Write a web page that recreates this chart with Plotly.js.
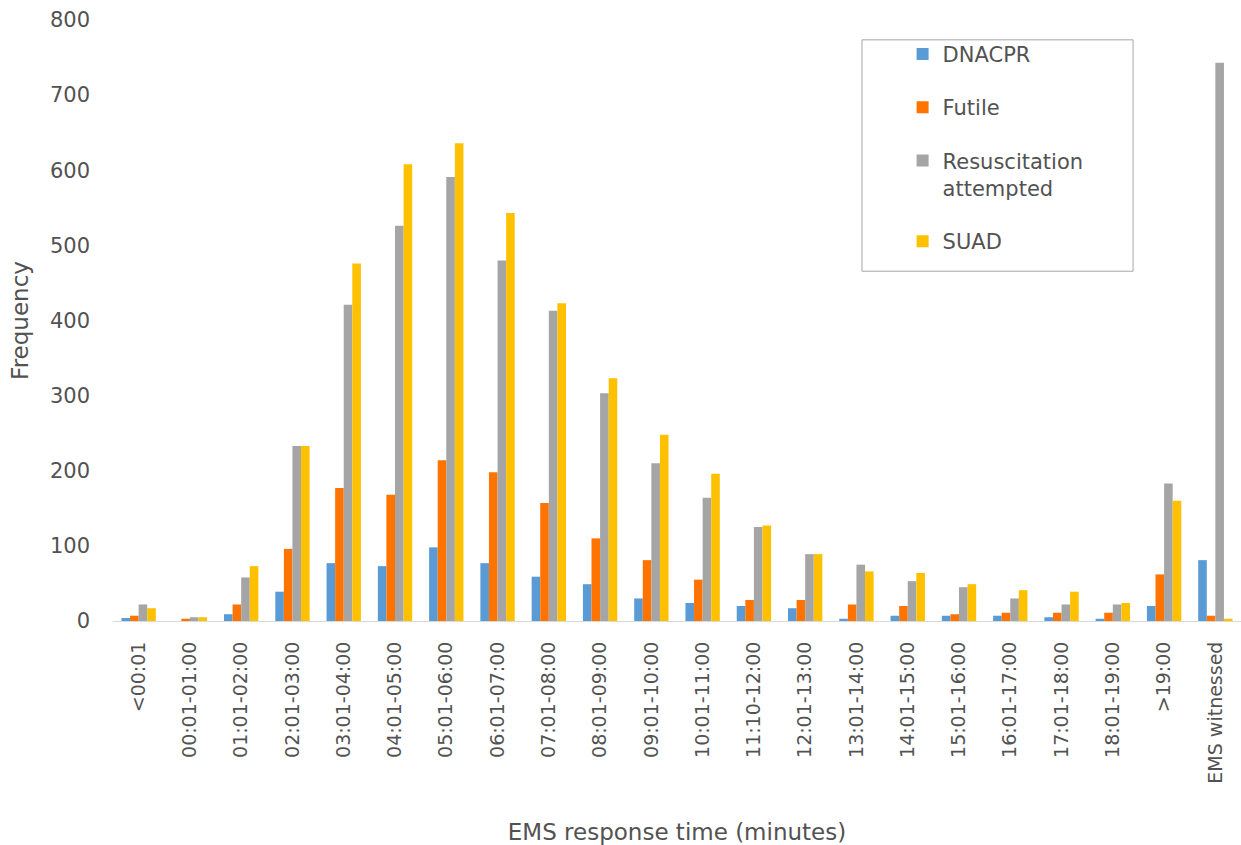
<!DOCTYPE html>
<html>
<head>
<meta charset="utf-8">
<script src="https://cdn.plot.ly/plotly-3.0.1.min.js"></script>
<style>html,body{margin:0;padding:0;background:#fff;}#chart{width:1241px;height:845px;}</style>
</head>
<body>
<div id="chart"></div>
<script>
var categories = ["<00:01","00:01-01:00","01:01-02:00","02:01-03:00","03:01-04:00","04:01-05:00","05:01-06:00","06:01-07:00","07:01-08:00","08:01-09:00","09:01-10:00","10:01-11:00","11:10-12:00","12:01-13:00","13:01-14:00","14:01-15:00","15:01-16:00","16:01-17:00","17:01-18:00","18:01-19:00",">19:00","EMS witnessed"];
var dnacpr = [4,0,9,39,77,73,98,77,59,49,30,24,20,17,3,7,7,7,5,3,20,81];
var futile = [7,3,22,96,177,168,214,198,157,110,81,55,28,28,22,20,9,11,11,11,62,7];
var resus  = [22,5,58,233,421,526,591,480,413,303,210,164,125,89,75,53,45,30,22,22,183,743];
var suad   = [17,5,73,233,476,608,636,543,423,323,248,196,127,89,66,64,49,41,39,24,160,3];
var seriesNames = ["DNACPR","Futile","Resuscitation<br>attempted","SUAD"];
var colors = ["#5B9BD5","#FF7300","#A5A5A5","#FFC000"];
var values = [dnacpr, futile, resus, suad];

var traces = values.map(function(v, i){
  return {type:"bar", x:categories, y:v, name:seriesNames[i], legendgroup:"g"+i,
          marker:{color:colors[i]}, hoverinfo:"x+y+name"};
});

var txt = "#525252";
var fam = "DejaVu Sans, sans-serif";
var layout = {
  width:1241, height:845,
  margin:{l:113, r:0, t:20, b:224},
  paper_bgcolor:"#fff", plot_bgcolor:"#fff",
  font:{family:fam, color:txt},
  barmode:"group", bargap:0.33, bargroupgap:0,
  xaxis:{type:"category", tickangle:-90, tickfont:{family:fam, size:19, color:txt},
         showline:true, linecolor:"#D9D9D9", linewidth:1, ticks:"", showgrid:false,
         ticklabelstandoff:12,
         title:{text:"EMS response time (minutes)", font:{family:fam, size:23, color:txt}, standoff:44}},
  yaxis:{range:[0,800], dtick:100, showgrid:false, zeroline:false, showline:false, ticks:"",
         tickfont:{family:fam, size:21, color:txt}, ticklabelstandoff:22,
         title:{text:"Frequency", font:{family:fam, size:23, color:txt}, standoff:14}},
  legend:{x:0.700, y:0.977, xanchor:"left", yanchor:"top", font:{family:fam, size:21, color:txt},
          bgcolor:"rgba(0,0,0,0)", borderwidth:0, tracegroupgap:23, valign:"top",
          itemwidth:30},
  shapes:[{type:"rect", xref:"paper", yref:"paper", x0:0.664, x1:0.9043, y0:0.582, y1:0.967,
           line:{color:"#A6A6A6", width:1}, fillcolor:"rgba(0,0,0,0)"}],
  showlegend:true
};
Plotly.newPlot("chart", traces, layout, {displayModeBar:false});
</script>
</body>
</html>
